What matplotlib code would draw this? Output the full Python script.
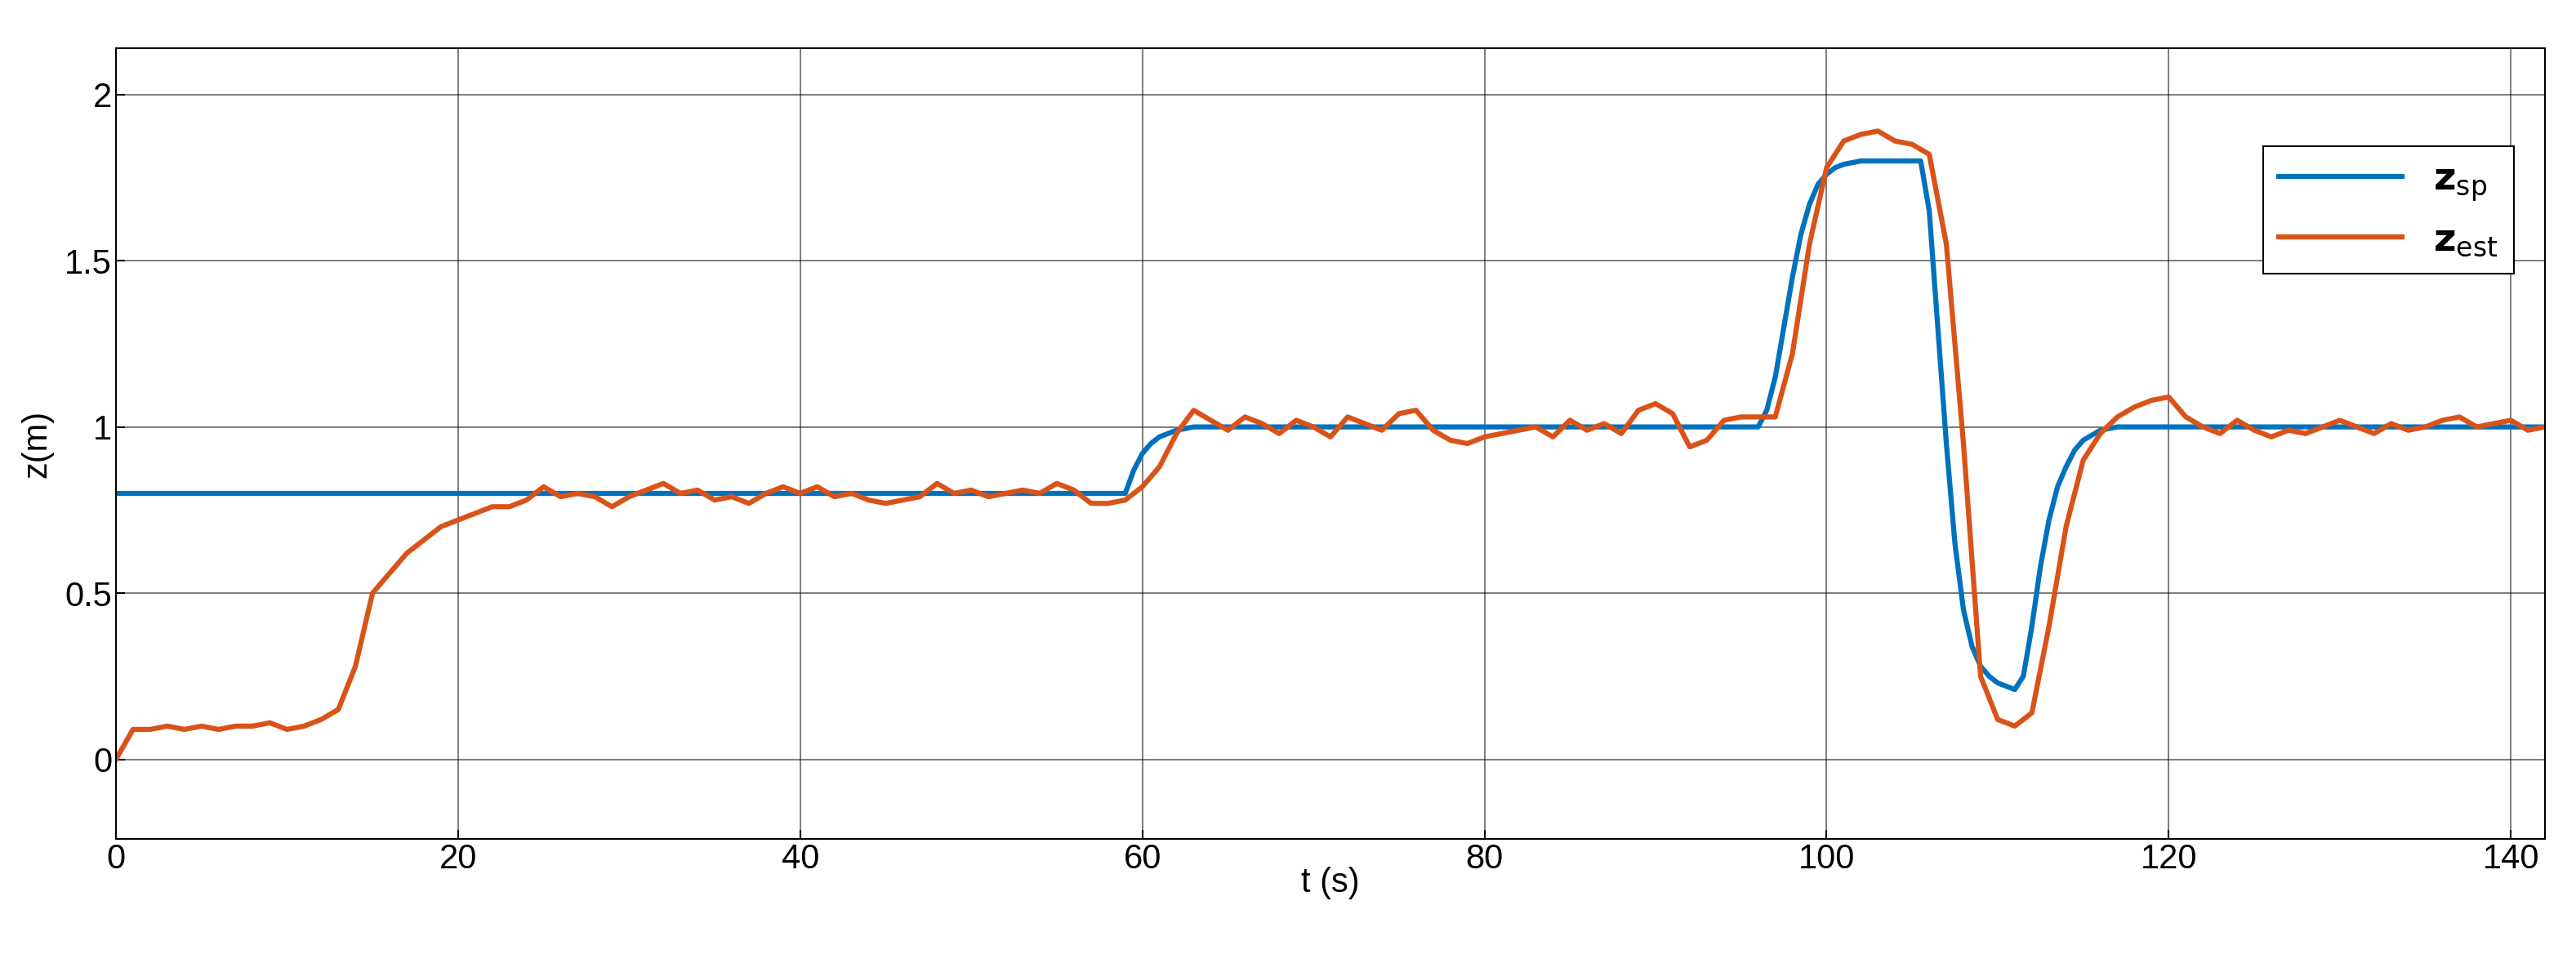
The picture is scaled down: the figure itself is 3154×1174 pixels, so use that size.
import matplotlib
matplotlib.use('Agg')
import matplotlib.pyplot as plt

plt.rcParams['font.family'] = ['Liberation Sans Narrow', 'Liberation Sans', 'DejaVu Sans']

# setpoint
t_sp = [0, 59, 59.5, 60, 60.5, 61, 61.5, 62, 63, 64, 96, 96.5, 97, 97.5, 98, 98.5, 99, 99.5,
        100, 100.5, 101, 102, 103, 104, 105.5, 106, 106.5, 107, 107.5, 108, 108.5, 109,
        109.5, 110, 111, 111.5, 112, 112.5, 113, 113.5, 114, 114.5, 115, 116, 117, 142]
z_sp = [0.80, 0.80, 0.87, 0.92, 0.95, 0.97, 0.98, 0.99, 1.00, 1.00, 1.00, 1.05, 1.15, 1.30,
        1.45, 1.58, 1.67, 1.73, 1.76, 1.78, 1.79, 1.80, 1.80, 1.80, 1.80, 1.65, 1.30, 0.95,
        0.65, 0.45, 0.34, 0.28, 0.25, 0.23, 0.21, 0.25, 0.40, 0.58, 0.72, 0.82, 0.88, 0.93,
        0.96, 0.99, 1.00, 1.00]

# estimate
t_est = list(range(0, 143))
z_est = [0.00, 0.09, 0.09, 0.10, 0.09, 0.10, 0.09, 0.10, 0.10, 0.11, 0.09, 0.10, 0.12, 0.15,
         0.28, 0.50, 0.56, 0.62, 0.66, 0.70, 0.72, 0.74, 0.76, 0.76, 0.78, 0.82, 0.79, 0.80,
         0.79, 0.76, 0.79, 0.81, 0.83, 0.80, 0.81, 0.78, 0.79, 0.77, 0.80, 0.82, 0.80, 0.82,
         0.79, 0.80, 0.78, 0.77, 0.78, 0.79, 0.83, 0.80, 0.81, 0.79, 0.80, 0.81, 0.80, 0.83,
         0.81, 0.77, 0.77, 0.78, 0.82, 0.88, 0.98, 1.05, 1.02, 0.99, 1.03, 1.01, 0.98, 1.02,
         1.00, 0.97, 1.03, 1.01, 0.99, 1.04, 1.05, 0.99, 0.96, 0.95, 0.97, 0.98, 0.99, 1.00,
         0.97, 1.02, 0.99, 1.01, 0.98, 1.05, 1.07, 1.04, 0.94, 0.96, 1.02, 1.03, 1.03, 1.03,
         1.22, 1.55, 1.78, 1.86, 1.88, 1.89, 1.86, 1.85, 1.82, 1.55, 0.95, 0.25, 0.12, 0.10,
         0.14, 0.40, 0.70, 0.90, 0.98, 1.03, 1.06, 1.08, 1.09, 1.03, 1.00, 0.98, 1.02, 0.99,
         0.97, 0.99, 0.98, 1.00, 1.02, 1.00, 0.98, 1.01, 0.99, 1.00, 1.02, 1.03, 1.00, 1.01,
         1.02, 0.99, 1.00]

fig = plt.figure(figsize=(31.54, 11.74), dpi=100)
ax = fig.add_axes([0.045, 0.125, 0.943, 0.825])
ax.plot(t_sp, z_sp, color='#0072BD', lw=4.5, label=r'$\mathbf{z}_{\mathrm{sp}}$')
ax.plot(t_est, z_est, color='#D95319', lw=4.5, label=r'$\mathbf{z}_{\mathrm{est}}$')
ax.set_xlim(0, 142)
ax.set_ylim(-0.24, 2.14)
ax.set_xticks(range(0, 141, 20))
ax.set_yticks([0, 0.5, 1, 1.5, 2])
ax.set_yticklabels(['0', '0.5', '1', '1.5', '2'])
ax.grid(True, color='black', lw=1.2, alpha=0.6)
ax.tick_params(labelsize=30, direction='in', length=8, width=1.5)
for s in ax.spines.values():
    s.set_linewidth(1.5)
ax.set_xlabel('t (s)', fontsize=30, labelpad=-8)
ax.set_ylabel('z(m)', fontsize=30, labelpad=10)
leg = ax.legend(loc='upper right', bbox_to_anchor=(0.995, 0.9), fontsize=34, fancybox=False,
                edgecolor='black', framealpha=1, handlelength=3.2)
leg.get_frame().set_linewidth(1.5)
fig.savefig('out.png', dpi=100)
